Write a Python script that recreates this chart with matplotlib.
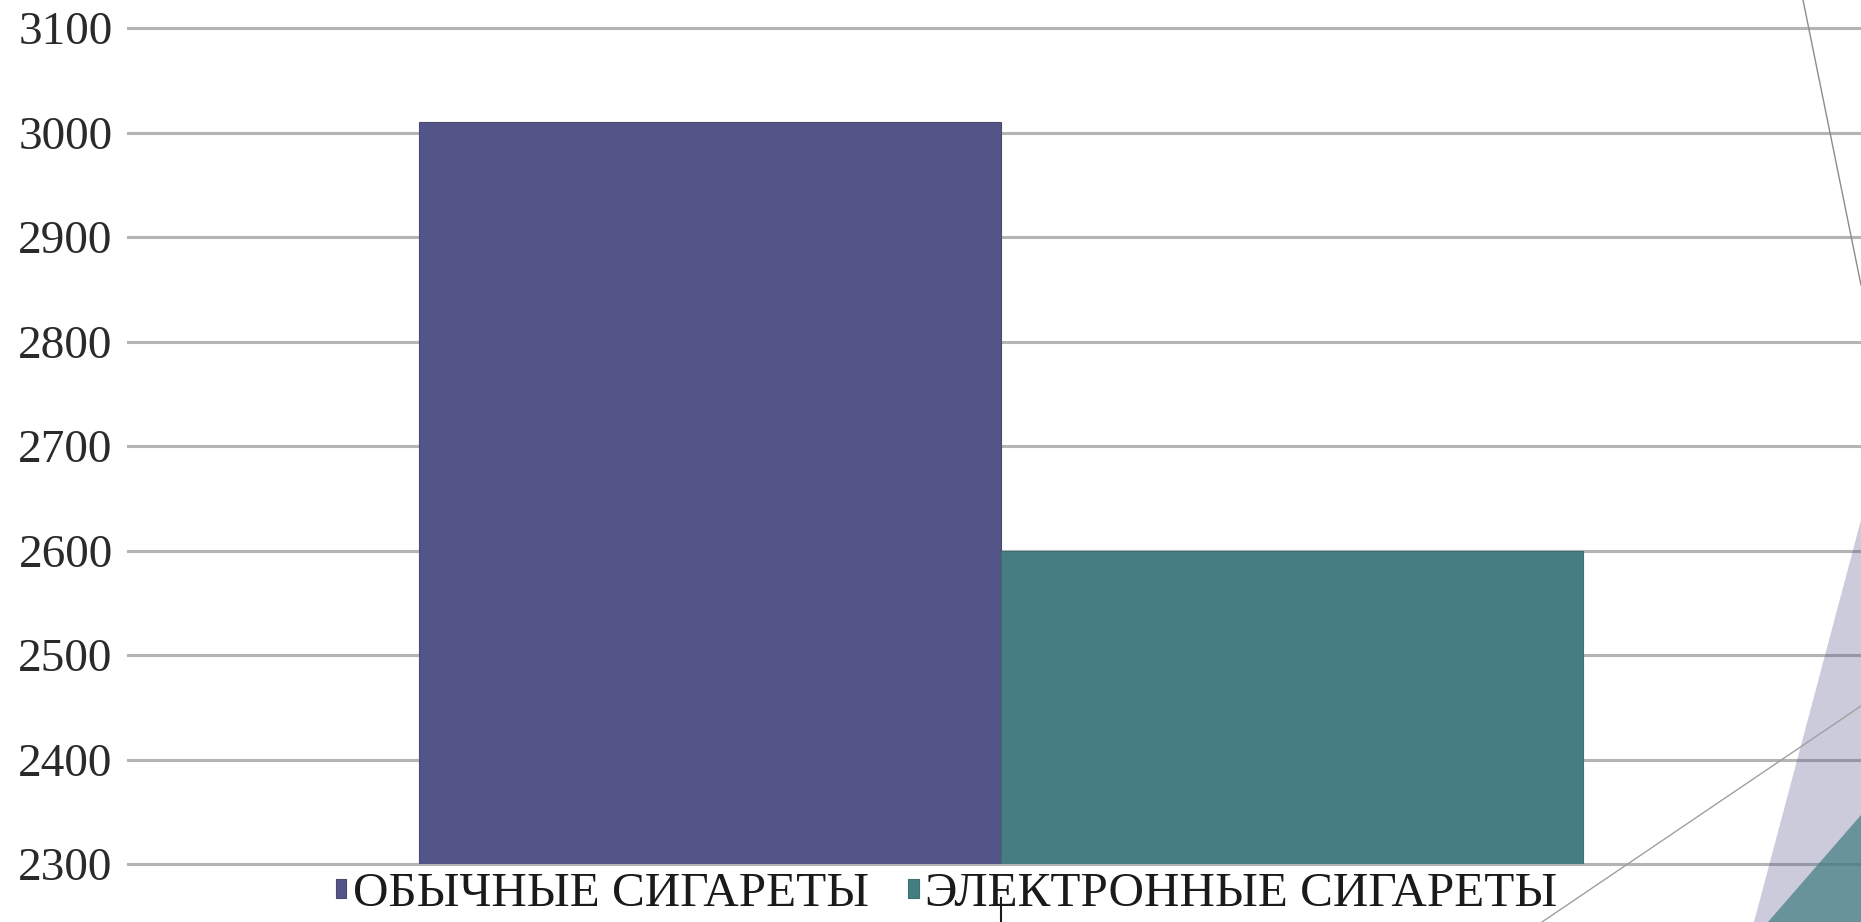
import matplotlib
matplotlib.use("Agg")
import matplotlib.pyplot as plt
from matplotlib.patches import Polygon
from matplotlib.lines import Line2D

# ---- data ----
series_names = ["ОБЫЧНЫЕ СИГАРЕТЫ", "ЭЛЕКТРОННЫЕ СИГАРЕТЫ"]
series_values = [3010, 2600]
series_colors = ["#535488", "#447E82"]
y_ticks = [2300, 2400, 2500, 2600, 2700, 2800, 2900, 3000, 3100]

W, H = 1861, 922
fig = plt.figure(figsize=(W / 100, H / 100), dpi=100)
fig.patch.set_facecolor("white")

serif = ["Liberation Serif", "DejaVu Serif"]

# axes geometry (pixels)
x0, x1 = 128, 1874
y_top, y_bot = 28, 864
ax = fig.add_axes([x0 / W, (H - y_bot) / H, (x1 - x0) / W, (y_bot - y_top) / H])
ax.set_facecolor("none")

bw = 1 / 3
offsets = [-bw / 2, bw / 2]
edges = ["#4a4a6a", "#3d6f73"]
for name, val, col, off, ec in zip(series_names, series_values, series_colors, offsets, edges):
    ax.bar(off, val - y_ticks[0], bottom=y_ticks[0], width=bw, color=col,
           edgecolor=ec, linewidth=0.8, label=name, zorder=3)

ax.set_xlim(-0.5, 0.5)
ax.set_ylim(y_ticks[0], y_ticks[-1])
ax.set_yticks(y_ticks)
ax.set_yticklabels([str(t) for t in y_ticks], fontfamily=serif, fontsize=34, color="#2a2a2a")
ax.tick_params(axis="y", length=0, pad=11)
ax.set_xticks([])
for s in ax.spines.values():
    s.set_visible(False)
ax.yaxis.grid(True, color="#B4B4B4", linewidth=2.2, zorder=0)
ax.set_axisbelow(True)
for gl in ax.get_ygridlines():
    gl.set_clip_on(False)

# legend
leg = fig.legend(loc="center left", bbox_to_anchor=(336 / W, 1 - 894 / H),
                 ncol=2, frameon=False, borderpad=0, borderaxespad=0,
                 prop={"family": serif, "size": 35.4},
                 handlelength=0.21, handleheight=0.21, handletextpad=0.13,
                 columnspacing=0.8)
for t in leg.get_texts():
    t.set_color("#1a1a1a")

# small vertical mark at category centre
fig.add_artist(Line2D([1001 / W, 1001 / W], [0, 1 - 898 / H], transform=fig.transFigure,
                      color="#1a1a1a", linewidth=1.5))

# decorative shapes on right side
def fp(x, y):
    return (x / W, 1 - y / H)

fig.add_artist(Polygon([fp(1754, 922), fp(1861, 520), fp(1861, 922)], closed=True,
                       transform=fig.transFigure, facecolor="#535488", alpha=0.3,
                       edgecolor="none", zorder=5))
fig.add_artist(Polygon([fp(1768, 922), fp(1861, 815), fp(1861, 922)], closed=True,
                       transform=fig.transFigure, facecolor="#447E82", alpha=0.72,
                       edgecolor="none", zorder=6))
fig.add_artist(Line2D([1803 / W, 1861 / W], [1, 1 - 285 / H], transform=fig.transFigure,
                      color="#8c8c8c", linewidth=1.0, zorder=7))
fig.add_artist(Line2D([1542 / W, 1861 / W], [0, 1 - 706 / H], transform=fig.transFigure,
                      color="#a0a0a0", linewidth=1.0, zorder=7))

fig.savefig("out.png", dpi=100, facecolor="white")
